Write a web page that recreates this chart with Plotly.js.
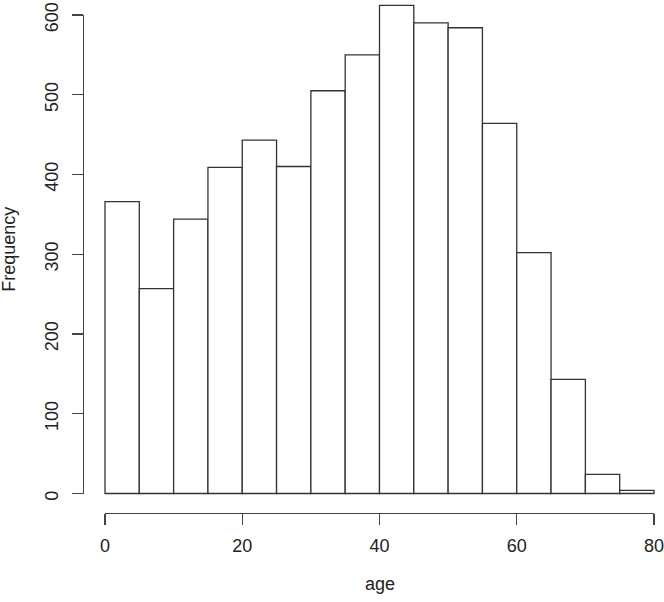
<!DOCTYPE html>
<html>
<head>
<meta charset="utf-8">
<script src="https://cdn.plot.ly/plotly-3.0.1.min.js"></script>
<style>html,body{margin:0;padding:0;background:#fff}#chart{width:664px;height:602px}</style>
</head>
<body>
<div id="chart"></div>
<script>
// Histogram of age (bin width 5)
const binStarts = [0, 5, 10, 15, 20, 25, 30, 35, 40, 45, 50, 55, 60, 65, 70, 75];
const counts = [366, 257, 344, 409, 443, 410, 505, 550, 612, 590, 584, 464, 302, 143, 24, 4];
const xTicks = [0, 20, 40, 60, 80];
const yTicks = [0, 100, 200, 300, 400, 500, 600];
const xLabel = "age";
const yLabel = "Frequency";

const FONT = "Liberation Sans, Arial, Helvetica, sans-serif";
const FS = 18;
const W = 664, H = 602;
const L = 83, R = 0, T = 0, B = 88.5;
const pw = W - L - R, ph = H - T - B;
const x0px = 105, x80px = 654;
const y0px = 494, y600px = 15;
const pxPerX = (x80px - x0px) / 80;
const pxPerY = (y0px - y600px) / 600;

const xr = [-(x0px - L) / pxPerX, 80 + (W - R - x80px) / pxPerX];
const yr = [-(H - B - y0px) / pxPerY, (y0px - T) / pxPerY];

const traces = [
  {
    type: "bar",
    x: binStarts,
    y: counts,
    width: binStarts.map(() => 5),
    offset: 0,
    marker: {color: "#ffffff", line: {color: "#333333", width: 1.3}},
    hoverinfo: "skip",
    xaxis: "x", yaxis: "y"
  },
  {
    type: "scatter", mode: "markers",
    x: [], y: [],
    xaxis: "x2", yaxis: "y2",
    hoverinfo: "skip", showlegend: false
  }
];

const layout = {
  width: W, height: H,
  margin: {l: L, r: R, t: T, b: B, pad: 0},
  paper_bgcolor: "#fff", plot_bgcolor: "rgba(0,0,0,0)",
  showlegend: false,
  bargap: 0,
  font: {family: FONT, size: FS, color: "#222"},
  xaxis: {domain: [0, 1], range: xr, visible: false, fixedrange: true, anchor: "y"},
  yaxis: {domain: [0, 1], range: yr, visible: false, fixedrange: true, anchor: "x"},
  xaxis2: {
    domain: [(x0px - L) / pw, (x80px - L) / pw],
    range: [0, 80], anchor: "free", position: 0,
    showline: true, linecolor: "#444", linewidth: 1.3,
    ticks: "outside", ticklen: 11, tickwidth: 1.3, tickcolor: "#444",
    tickvals: xTicks, ticktext: xTicks.map(String),
    showgrid: false, zeroline: false,
    tickfont: {family: FONT, size: FS, color: "#222"},
    ticklabelstandoff: 5,
    ticklabeloverflow: "allow"
  },
  yaxis2: {
    domain: [(H - B - y0px) / ph, (H - B - y600px) / ph],
    range: [0, 600], anchor: "free", position: 0,
    showline: true, linecolor: "#444", linewidth: 1.3,
    ticks: "outside", ticklen: 11, tickwidth: 1.3, tickcolor: "#444",
    tickvals: yTicks, ticktext: yTicks.map(String),
    tickangle: -90,
    showgrid: false, zeroline: false,
    tickfont: {family: FONT, size: FS, color: "#222"},
    ticklabelstandoff: 7,
    ticklabelshift: 5,
    ticklabeloverflow: "allow"
  },
  annotations: [
    {text: xLabel, xref: "paper", yref: "paper",
     x: ((x0px + x80px) / 2 - L) / pw, y: (H - B - 585) / ph,
     xanchor: "center", yanchor: "middle", showarrow: false,
     font: {family: FONT, size: FS, color: "#222"}},
    {text: yLabel, xref: "paper", yref: "paper",
     x: (9 - L) / pw, y: (H - B - 250) / ph,
     xanchor: "center", yanchor: "middle", textangle: -90, showarrow: false,
     font: {family: FONT, size: FS, color: "#222"}}
  ]
};

Plotly.newPlot("chart", traces, layout, {displayModeBar: false, staticPlot: true});
</script>
</body>
</html>
